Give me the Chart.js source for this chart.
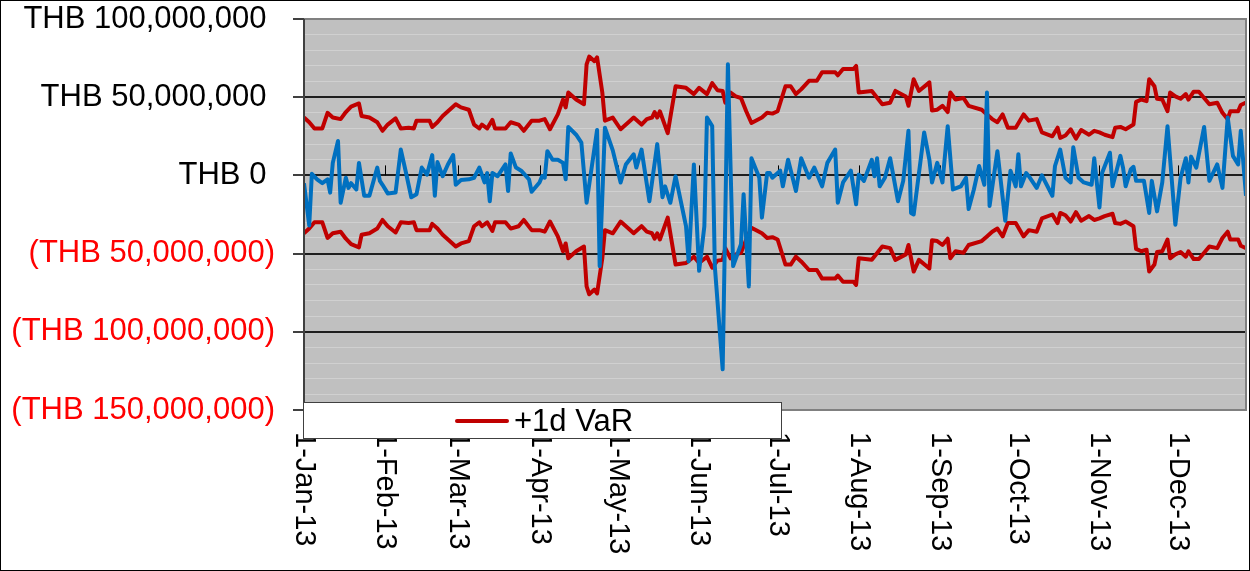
<!DOCTYPE html>
<html>
<head>
<meta charset="utf-8">
<script src="https://cdn.jsdelivr.net/npm/chart.js@4.4.1/dist/chart.umd.min.js"></script>
<style>
  html, body { margin: 0; padding: 0; background: #fff; }
  #wrap { width: 1250px; height: 571px; }
</style>
</head>
<body>
<div id="wrap"><canvas id="varChart" width="1250" height="571"></canvas></div>
<script>
// day of year (0 = 1-Jan-13), values in THB millions
const monthStarts = [0, 31, 59, 90, 120, 151, 181, 212, 243, 273, 304, 334];
const monthLabels = ['1-Jan-13', '1-Feb-13', '1-Mar-13', '1-Apr-13', '1-May-13', '1-Jun-13',
  '1-Jul-13', '1-Aug-13', '1-Sep-13', '1-Oct-13', '1-Nov-13', '1-Dec-13'];

const pnlDays = [0, 2, 3, 5, 7, 9, 10, 11, 13, 14, 16, 17, 18, 20, 21, 23, 25, 28, 29, 30,
  32, 35, 37, 39, 41, 43, 45, 47, 49, 50, 51, 53, 55, 57, 58, 60, 63, 65, 67, 69,
  70, 71, 72, 74, 77, 78, 79, 81, 83, 86, 87, 90, 91, 92, 93, 95, 97, 99, 100, 101,
  104, 106, 108, 112, 113, 115, 118, 121, 123, 126, 127, 129, 132, 135, 137, 138, 140, 142, 146, 147,
  149, 151, 153, 154, 156, 157, 160, 162, 164, 167, 168, 170, 171, 174, 175, 177, 178, 179, 182, 183,
  185, 188, 190, 193, 195, 198, 200, 203, 204, 206, 209, 211, 212, 214, 217, 218, 219, 220, 222, 224,
  227, 229, 231, 232, 233, 237, 239, 240, 242, 244, 246, 248, 251, 253, 254, 256, 258, 260, 261, 262,
  265, 268, 270, 272, 273, 274, 276, 277, 280, 282, 286, 287, 289, 291, 293, 294, 296, 298, 301, 302,
  304, 305, 308, 309, 312, 313, 314, 316, 317, 318, 321, 323, 324, 326, 328, 330, 333, 335, 337, 338,
  339, 341, 344, 346, 349, 351, 353, 355, 357, 358, 360];
const pnl = [-5, -32, 1, -2.5, -5, -2.5, -11, 8, 22, -17.5, -1.5, -8, -5, -9, 8, -13, -13, 5, -3.5, -6,
  -11.5, -11, 16.5, 1.5, -14, -12, 5, 0.5, 13, -13, 8.5, -0.5, 7, 13, -6, -3, -2.5, -1.5, 5, -4.5,
  1.5, -16.5, 1.5, -0.5, 7, -10, 14, 5, 3, -2.5, -10.5, -4.5, -0.5, -1.5, 15.5, 10, 10, 8, -2.5, 31,
  26, 21, -17.5, 29, -58, 30.5, 16, -4.5, 7, 13.5, 5, 16.5, -16.5, 20, -14, -7, -17.5, -0.5, -32.5, -55,
  7, -61, -32.5, 37, 31.5, -58, -124, 71, -58, -44, -12, -71, 11, -1.5, -27, 1.5, 1.5, -1.5, 3, -7,
  10, -10, 11, -1.5, 5, -7, 8, 16.5, -17.5, -4.5, 3, -18.5, 0.5, -3.5, 10, -0.5, 11, -7, -1.5, 11,
  -16.5, -3.5, 28.5, -24, -25, 27.5, 10, -4.5, 8, -4.5, 31.5, -9, -7, -1.5, -21.5, -9, 6, -6, 53, -19.5,
  15.5, -29, 3, -7, 13.5, -7, 1.5, -0.5, -8, 0, -13, 6, 16.5, -1.5, -4.5, 18, -1.5, -4.5, -6, 11,
  -20.5, 1.5, 14.5, -7, 12.5, 5, -7, 4, 5.5, -3.5, -3.5, -24, -3.5, -23, -4.5, 31.5, -31.5, -1.5, 11, -4.5,
  12, 5, 31, -3.5, 7, -8, 37, 12.5, 7, 28.5, -13];

const varDays = [0, 2, 4, 7, 9, 11, 14, 16, 18, 21, 22, 25, 28, 30, 32, 35, 37, 40, 42, 43,
  48, 49, 51, 53, 58, 60, 63, 65, 67, 68, 70, 72, 73, 77, 79, 82, 84, 87, 90, 92,
  94, 97, 99, 100, 101, 104, 107, 108, 109, 111, 112, 114, 115, 118, 121, 124, 126, 129, 131, 133,
  134, 135, 136, 139, 142, 146, 149, 151, 154, 156, 158, 160, 161, 163, 165, 167, 169, 171, 175, 177,
  179, 181, 184, 186, 188, 190, 193, 196, 198, 203, 204, 206, 210, 211, 212, 217, 221, 224, 226, 230,
  231, 233, 235, 239, 240, 242, 244, 246, 247, 249, 252, 254, 259, 261, 263, 265, 267, 269, 272, 275,
  277, 280, 282, 286, 288, 289, 291, 293, 295, 297, 300, 302, 304, 306, 309, 310, 312, 314, 317, 318,
  320, 322, 323, 325, 326, 328, 330, 331, 333, 335, 337, 338, 340, 342, 346, 349, 351, 353, 354, 357,
  358, 360];
const varUp = [37, 34, 30, 30, 40, 37, 36, 40.5, 44, 46, 38, 37, 34, 28.5, 32.5, 36.5, 30, 30.5, 30, 35,
  35, 31, 34, 38, 45.5, 43.5, 42, 32.5, 30, 32.5, 30, 35.5, 30, 30, 34, 32.5, 28.5, 35, 35, 36,
  29.5, 39, 48.5, 43.5, 53, 48.5, 45.5, 71, 76, 73, 75.5, 53, 35, 37, 29.5, 34, 37, 32.5, 36, 37,
  40.5, 37, 41, 27, 57, 56, 52, 56, 52, 59, 54.5, 54, 46.5, 53, 50.5, 49.5, 41, 33.5, 37, 40,
  39.5, 41, 57, 57, 52, 55, 60.5, 60.5, 66, 66, 64, 68, 68, 70, 53, 54, 45.5, 46.5, 54, 50.5,
  44.5, 61.5, 54, 59.5, 41.5, 42, 44.5, 40.5, 53, 48.5, 49.5, 44.5, 42, 39, 36, 34, 39, 30.5, 30.5, 39,
  35, 36, 27.5, 25, 30.5, 24, 25.5, 29.5, 23.5, 29, 26, 28.5, 27.5, 26, 24.5, 30.5, 31, 29.5, 32.5, 47,
  48.5, 47.5, 61.5, 57, 49, 48.5, 41, 53, 50.5, 49, 52, 48.5, 53.5, 53.5, 45.5, 46.5, 40, 36, 41, 41,
  45, 46.5];
const varDown = [-37, -34, -30, -30, -40, -37, -36, -40.5, -44, -46, -38, -37, -34, -28.5, -32.5, -36.5, -30, -30.5, -30, -35,
  -35, -31, -34, -38, -45.5, -43.5, -42, -32.5, -30, -32.5, -30, -35.5, -30, -30, -34, -32.5, -28.5, -35, -35, -36,
  -29.5, -39, -48.5, -43.5, -53, -48.5, -45.5, -71, -76, -73, -75.5, -53, -35, -37, -29.5, -34, -37, -32.5, -36, -37,
  -40.5, -37, -41, -27, -57, -56, -52, -56, -52, -59, -54.5, -54, -46.5, -53, -50.5, -49.5, -41, -33.5, -37, -40,
  -39.5, -41, -57, -57, -52, -55, -60.5, -60.5, -66, -66, -64, -68, -68, -70, -53, -54, -45.5, -46.5, -54, -50.5,
  -44.5, -61.5, -54, -59.5, -41.5, -42, -44.5, -40.5, -53, -48.5, -49.5, -44.5, -42, -39, -36, -34, -39, -30.5, -30.5, -39,
  -35, -36, -27.5, -25, -30.5, -24, -25.5, -29.5, -23.5, -29, -26, -28.5, -27.5, -26, -24.5, -30.5, -31, -29.5, -32.5, -47,
  -48.5, -47.5, -61.5, -57, -49, -48.5, -41, -53, -50.5, -49, -52, -48.5, -53.5, -53.5, -45.5, -46.5, -40, -36, -41, -41,
  -45, -46.5];

const yTicks = [100, 50, 0, -50, -100, -150];

const RED = '#C00000';
const BLUE = '#0070C0';
const FONT = "'Liberation Sans', Arial, sans-serif";

function pts(days, vals) {
  return days.map((d, i) => ({ x: d, y: vals[i] }));
}

function thb(v) {
  const s = 'THB ' + Math.abs(v * 1000000).toLocaleString('en-US');
  return v < 0 ? '(' + s + ')' : s + ' ';
}

const excelLook = {
  id: 'excelLook',
  beforeDraw(chart) {
    const { ctx, chartArea: a } = chart;
    ctx.save();
    ctx.fillStyle = '#fff';
    ctx.fillRect(0, 0, chart.width, chart.height);
    ctx.fillStyle = '#C0C0C0';
    ctx.fillRect(a.left, a.top, a.right - a.left, a.bottom - a.top);
    ctx.restore();
  },
  beforeDatasetsDraw(chart) {
    const { ctx } = chart;
    const xs = chart.scales.x, ys = chart.scales.y;
    const y0 = ys.getPixelForValue(0);
    ctx.save();
    ctx.strokeStyle = '#000';
    ctx.lineWidth = 1;
    monthStarts.slice(1).forEach(d => {
      const x = Math.round(xs.getPixelForValue(d)) + 0.5;
      ctx.beginPath();
      ctx.moveTo(x, y0);
      ctx.lineTo(x, y0 - 10);
      ctx.stroke();
    });
    ctx.restore();
  },
  afterDraw(chart) {
    const { ctx, chartArea: a } = chart;
    const xs = chart.scales.x;
    ctx.save();
    // plot border
    ctx.strokeStyle = '#808080';
    ctx.lineWidth = 2;
    ctx.beginPath();
    ctx.moveTo(a.left, a.top);
    ctx.lineTo(a.right, a.top);
    ctx.lineTo(a.right, a.bottom);
    ctx.lineTo(a.left, a.bottom);
    ctx.stroke();
    ctx.strokeStyle = '#404040';
    ctx.beginPath();
    ctx.moveTo(a.left, a.top);
    ctx.lineTo(a.left, a.bottom);
    ctx.stroke();

    // month labels, rotated to read downwards
    ctx.fillStyle = '#000';
    ctx.font = '29px ' + FONT;
    ctx.textAlign = 'left';
    ctx.textBaseline = 'middle';
    monthStarts.forEach((d, i) => {
      const x = xs.getPixelForValue(d);
      ctx.save();
      ctx.translate(x, 432);
      ctx.rotate(Math.PI / 2);
      ctx.fillText(monthLabels[i], 0, 0);
      ctx.restore();
    });

    // legend box (only the +1d VaR entry is shown)
    const ds = chart.data.datasets[1];
    ctx.fillStyle = '#fff';
    ctx.fillRect(303, 402, 478, 36);
    ctx.strokeStyle = '#404040';
    ctx.lineWidth = 1;
    ctx.strokeRect(303.5, 402.5, 478, 36);
    ctx.strokeStyle = ds.borderColor;
    ctx.lineWidth = 4;
    ctx.lineCap = 'round';
    ctx.beginPath();
    ctx.moveTo(457, 421);
    ctx.lineTo(507, 421);
    ctx.stroke();
    ctx.fillStyle = '#000';
    ctx.font = '31px ' + FONT;
    ctx.textAlign = 'left';
    ctx.textBaseline = 'alphabetic';
    ctx.fillText(ds.label, 514, 431);

    // outer frame
    ctx.strokeStyle = '#000';
    ctx.lineWidth = 1;
    ctx.strokeRect(0.5, 0.5, chart.width - 1, chart.height - 1);
    ctx.restore();
  }
};

new Chart(document.getElementById('varChart'), {
  type: 'line',
  data: {
    datasets: [
      {
        label: 'Daily P&L',
        data: pts(pnlDays, pnl),
        borderColor: BLUE,
        borderWidth: 4,
        pointRadius: 0,
        tension: 0,
        borderJoinStyle: 'round'
      },
      {
        label: '+1d VaR',
        data: pts(varDays, varUp),
        borderColor: RED,
        borderWidth: 4,
        pointRadius: 0,
        tension: 0,
        borderJoinStyle: 'round'
      },
      {
        label: '-1d VaR',
        data: pts(varDays, varDown),
        borderColor: RED,
        borderWidth: 4,
        pointRadius: 0,
        tension: 0,
        borderJoinStyle: 'round'
      }
    ]
  },
  options: {
    responsive: false,
    animation: false,
    layout: { padding: { top: 0, right: 4, left: 0, bottom: 0 } },
    plugins: {
      legend: { display: false },
      tooltip: { enabled: false }
    },
    scales: {
      x: {
        type: 'linear',
        min: 0,
        max: 360,
        grid: { display: false },
        border: { display: false },
        ticks: { display: false },
        afterBuildTicks(scale) {
          scale.ticks = monthStarts.map(v => ({ value: v }));
        },
        afterFit(scale) {
          scale.height = 161;
          scale.paddingLeft = 0;
          scale.paddingRight = 0;
          scale.paddingTop = 0;
          scale.paddingBottom = 0;
        }
      },
      y: {
        min: -150,
        max: 100,
        border: { display: false },
        afterBuildTicks(scale) {
          const t = [];
          for (let v = -150; v <= 100; v += 10) t.push({ value: v });
          scale.ticks = t;
        },
        afterFit(scale) {
          scale.width = 304;
          scale.paddingTop = 19;
          scale.paddingBottom = 0;
        },
        grid: {
          lineWidth: ctx => (ctx.tick.value % 50 === 0 ? 2 : 1),
          color: ctx => {
            const v = ctx.tick.value;
            if (v % 50 !== 0) return '#D0D0D0';
            return (v === 100 || v === -150) ? 'rgba(0,0,0,0)' : '#1E1E1E';
          },
          tickColor: ctx => (yTicks.includes(ctx.tick.value) ? '#000' : 'rgba(0,0,0,0)'),
          tickLength: 11,
          tickWidth: 1.5
        },
        ticks: {
          padding: 18,
          autoSkip: false,
          font: { family: FONT, size: 31 },
          color: ctx => (ctx.tick.value < 0 ? '#FF0000' : '#000'),
          callback: v => (yTicks.includes(v) ? thb(v) : '')
        }
      }
    }
  },
  plugins: [excelLook]
});
</script>
</body>
</html>
